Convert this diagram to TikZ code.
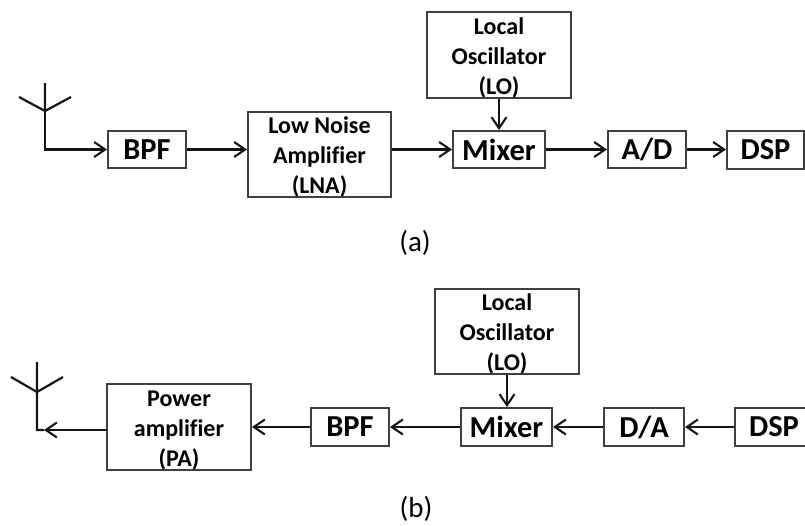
\documentclass[tikz,border=0pt]{standalone}
\usepackage{fontspec}
\setmainfont{Carlito}[Ligatures=NoCommon]
\usetikzlibrary{arrows.meta}
\definecolor{boxc}{HTML}{404040}
\definecolor{linec}{HTML}{151515}
\tikzset{
  blk/.style={draw=boxc,line width=2pt,inner sep=0pt,align=center,font=\fontsize{30.5}{30}\selectfont\bfseries},
  big/.style={blk,font=\fontsize{24}{30}\selectfont\bfseries},
  conn/.style={draw=linec,line width=2.2pt},
  arr/.style={conn,-{Straight Barb[length=11pt,width=15pt,line width=2.1pt]}},
  captxt/.style={font=\fontsize{29}{30}\selectfont,inner sep=0pt}
}
\newcommand{\blkbox}[7]{\node[#1,minimum width=#5 pt-#3 pt,minimum height=#6 pt-#4 pt] (#2) at ({(#3+#5)/2},{(#4+#6)/2}) {#7};}
\newcommand{\dn}{\rule{0pt}{22pt}}
\begin{document}
\begin{tikzpicture}[x=1pt,y=-1pt]
\useasboundingbox (0,0) rectangle (805,525);
% (a)
\blkbox{blk}{bpfa}{108}{131}{186}{168}{BPF}
\blkbox{big}{lna}{248}{112}{391}{197}{\dn Low Noise\\Amplifier\\(LNA)}
\blkbox{big}{loa}{427}{13}{571}{97}{\dn Local\\Oscillator\\(LO)}
\blkbox{blk}{mixa}{453}{131}{545}{168}{Mixer}
\blkbox{blk}{ad}{608}{131}{686}{168}{A/D}
\blkbox{blk}{dspa}{727}{131}{804}{169}{DSP}
\coordinate (anta) at (45,83);
\coordinate (ja) at (45,111);
\coordinate (la) at (19,97);
\coordinate (ra) at (71,97);
\coordinate (ca) at (45,149.5);
\draw[conn] (anta) -- (ja) (la) -- (ja) -- (ra);
\draw[arr] (anta) -- (ca) -- (bpfa.west);
\draw[arr] (bpfa.east) -- (bpfa.east -| lna.west);
\draw[arr] (lna.east |- mixa.west) -- (mixa.west);
\draw[arr] (mixa.east) -- (ad.west);
\draw[arr] (ad.east) -- (ad.east -| dspa.west);
\draw[arr] (loa.south) -- (mixa.north);
\node[captxt] (capa) at (415,243) {(a)};
% (b)
\blkbox{big}{pa}{107}{385}{251}{469}{\dn Power\\amplifier\\(PA)}
\blkbox{blk}{bpfb}{311}{408}{389}{446}{BPF}
\blkbox{big}{lob}{435}{289}{579}{374}{\dn Local\\Oscillator\\(LO)}
\blkbox{blk}{mixb}{461}{408}{552}{446}{Mixer}
\blkbox{blk}{da}{604}{408}{684}{446}{D/A}
\blkbox{blk}{dspb}{735}{408}{813}{446}{DSP}
\coordinate (antb) at (37,362);
\coordinate (jb) at (37,392);
\coordinate (lb) at (11,377);
\coordinate (rb) at (63,377);
\coordinate (cb) at (37,430);
\coordinate (tb) at (44,430);
\coordinate (pb) at (107,430);
\draw[conn] (antb) -- (cb) -- (tb) (lb) -- (jb) -- (rb);
\draw[arr] (pb) -- (tb);
\draw[arr] (bpfb.west) -- (bpfb.west -| pa.east);
\draw[arr] (mixb.west) -- (bpfb.east);
\draw[arr] (da.west) -- (mixb.east);
\draw[arr] (dspb.west) -- (da.east);
\draw[arr] (lob.south) -- (lob.south |- mixb.north);
\node[captxt] (capb) at (416,509) {(b)};
\end{tikzpicture}
\end{document}
